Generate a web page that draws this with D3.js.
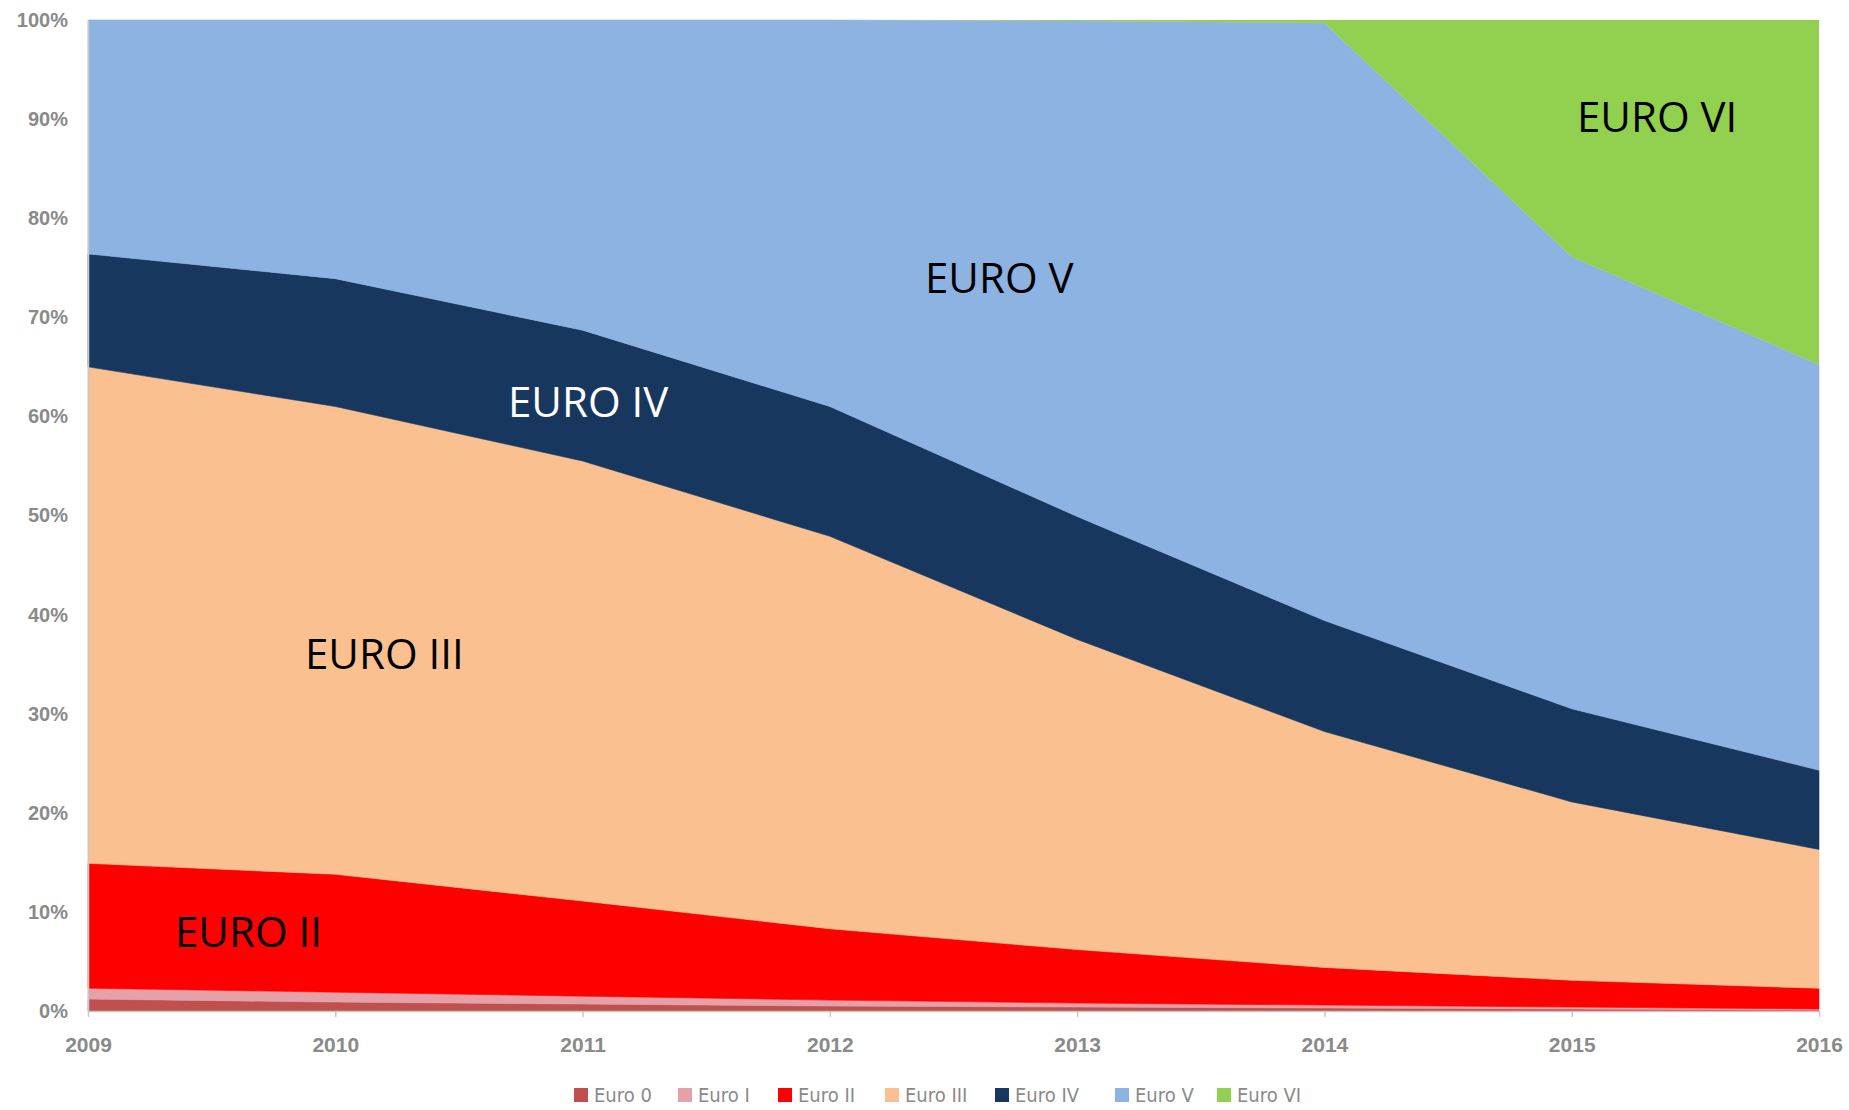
<!DOCTYPE html>
<html>
<head>
<meta charset="utf-8">
<script src="https://cdn.jsdelivr.net/npm/d3@7/dist/d3.min.js"></script>
<style>
  html, body { margin: 0; padding: 0; background: #fff; }
  svg { display: block; }
</style>
</head>
<body>
<svg id="chart" width="1849" height="1110"></svg>
<script>
// ---- Data (percent share of each emission class per year) ----
const years = [2009, 2010, 2011, 2012, 2013, 2014, 2015, 2016];
const seriesNames = ["Euro 0", "Euro I", "Euro II", "Euro III", "Euro IV", "Euro V", "Euro VI"];
const euro0   = [1.2, 0.9, 0.7, 0.5, 0.4, 0.3, 0.2, 0.1];
const euro1   = [1.1, 1.0, 0.8, 0.6, 0.4, 0.3, 0.2, 0.1];
const euro2   = [12.6, 11.9, 9.6, 7.2, 5.4, 3.8, 2.7, 2.1];
const euro3   = [50.1, 47.2, 44.4, 39.6, 31.3, 23.8, 18.0, 14.0];
const euro4   = [11.4, 12.9, 13.2, 13.1, 12.4, 11.2, 9.4, 8.0];
const euro5   = [23.6, 26.1, 31.3, 39.0, 50.0, 60.3, 45.6, 40.9];
const euro6   = [0.0, 0.0, 0.0, 0.0, 0.1, 0.3, 23.9, 34.8];
const seriesColors = ["#c0504d", "#e6a0a8", "#ff0000", "#fac090", "#17375e", "#8db3e2", "#92d050"];
const yTicks = [0, 10, 20, 30, 40, 50, 60, 70, 80, 90, 100];
const areaLabels = [
  { text: "EURO II",  color: "#000" },
  { text: "EURO III", color: "#000" },
  { text: "EURO IV",  color: "#fff" },
  { text: "EURO V",   color: "#000" },
  { text: "EURO VI",  color: "#000" }
];

// ---- Build table ----
const allValues = [euro0, euro1, euro2, euro3, euro4, euro5, euro6];
const table = years.map((y, i) => {
  const row = { year: y };
  seriesNames.forEach((n, k) => row[n] = allValues[k][i]);
  return row;
});

const svg = d3.select("#chart");
const margin = { left: 88, right: 30, top: 20, bottom: 99 };
const W = 1849, H = 1110;
const x = d3.scaleLinear().domain([2009, 2016]).range([margin.left, W - margin.right]);
const y = d3.scaleLinear().domain([0, 100]).range([H - margin.bottom, margin.top]);

const stack = d3.stack().keys(seriesNames).offset(d3.stackOffsetExpand);
const stacked = stack(table);

const area = d3.area()
  .x(d => x(d.data.year))
  .y0(d => y(d[0] * 100))
  .y1(d => y(d[1] * 100))
  .curve(d3.curveLinear);

svg.append("g").selectAll("path")
  .data(stacked)
  .join("path")
  .attr("d", area)
  .attr("fill", (d, i) => seriesColors[i])
  .attr("stroke", (d, i) => i === seriesNames.length - 1 ? "none" : seriesColors[i])
  .attr("stroke-width", 0.6);

// ---- Axes ----
const axisColor = "#c8c8c8";
const textColor = "#8a8a8a";

const yAxis = svg.append("g")
  .attr("transform", `translate(${margin.left},0)`)
  .call(d3.axisLeft(y).tickValues(yTicks).tickFormat(d => d + "%").tickSize(0).tickPadding(20));
yAxis.select(".domain").attr("stroke", axisColor).attr("stroke-width", 1.5);
yAxis.selectAll("text")
  .attr("font-family", "Liberation Sans, Arial, sans-serif")
  .attr("font-weight", "bold")
  .attr("font-size", 20)
  .attr("fill", textColor);

const xAxis = svg.append("g")
  .attr("transform", `translate(0,${y(0)})`)
  .call(d3.axisBottom(x).tickValues(years).tickFormat(d3.format("d")).tickSize(6).tickSizeOuter(0).tickPadding(20));
xAxis.select(".domain").attr("stroke", axisColor).attr("stroke-width", 1.5);
xAxis.selectAll(".tick line").attr("stroke", axisColor).attr("stroke-width", 1.5);
xAxis.selectAll("text")
  .attr("font-family", "Liberation Sans, Arial, sans-serif")
  .attr("font-weight", "bold")
  .attr("font-size", 21)
  .attr("fill", textColor);

// ---- Area labels ----
const labelPos = [
  { x: 175,  y: 947 },
  { x: 305,  y: 669 },
  { x: 508,  y: 417 },
  { x: 925,  y: 293 },
  { x: 1577, y: 132 }
];
svg.append("g").selectAll("text")
  .data(areaLabels)
  .join("text")
  .attr("x", (d, i) => labelPos[i].x)
  .attr("y", (d, i) => labelPos[i].y)
  .attr("font-family", "Open Sans, sans-serif")
  .attr("font-size", 42)
  .attr("fill", d => d.color)
  .text(d => d.text);

// ---- Legend ----
const legendX = [574, 678, 778, 885, 995, 1115, 1217];
const legend = svg.append("g");
seriesNames.forEach((n, i) => {
  const g = legend.append("g").attr("transform", `translate(${legendX[i]},1095)`);
  g.append("rect").attr("x", 0).attr("y", -7).attr("width", 14).attr("height", 14).attr("fill", seriesColors[i]);
  g.append("text")
    .attr("x", 20).attr("y", 7)
    .attr("font-family", "Liberation Sans Narrow, DejaVu Sans Condensed, Liberation Sans, sans-serif")
    .attr("font-size", 20)
    .attr("fill", textColor)
    .text(n);
});
</script>
</body>
</html>
